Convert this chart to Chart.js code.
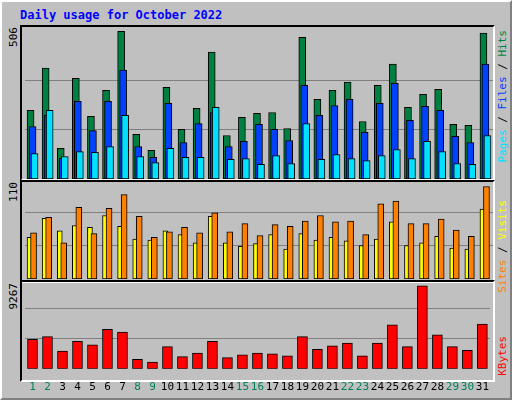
<!DOCTYPE html>
<html><head><meta charset="utf-8">
<script src="https://cdn.jsdelivr.net/npm/chart.js@4"></script>
<style>
body{margin:0;background:#fff;}
#wrap{position:absolute;left:0;top:0;width:508px;height:396px;background:#c0c0c0;border-left:2px solid #fff;border-top:2px solid #fff;border-right:2px solid #808080;border-bottom:2px solid #808080;overflow:hidden;}
.frame{position:absolute;border-top:2px solid #000;border-left:2px solid #000;border-right:2px solid #fff;border-bottom:2px solid #fff;box-sizing:border-box;}
canvas{position:absolute;}
.t{position:absolute;font-family:"DejaVu Sans Mono",monospace;font-size:11px;white-space:nowrap;}
.v{writing-mode:vertical-rl;transform:rotate(180deg);}
</style></head><body>
<div id="wrap">
<div class="t" style="left:18px;top:6px;color:#0000ff;font-weight:bold;font-size:12px;">Daily usage for October 2022</div>
<div class="frame" style="left:18px;top:23px;width:475px;height:156px;"></div>
<div class="frame" style="left:18px;top:178px;width:475px;height:103px;"></div>
<div class="frame" style="left:18px;top:278px;width:475px;height:102px;"></div>
<div class="t v" style="left:5px;top:25px;color:#000;">506</div>
<div class="t v" style="left:5px;top:180px;color:#000;">110</div>
<div class="t v" style="left:5px;top:281px;color:#000;">9267</div>
<div class="t v" style="left:494px;top:28px;"><span style="color:#00e0ff">Pages</span> / <span style="color:#0040ff">Files</span> / <span style="color:#008040">Hits</span></div>
<div class="t v" style="left:494px;top:198px;"><span style="color:#ff8000">Sites</span> / <span style="color:#ffff00">Visits</span></div>
<div class="t v" style="left:494px;top:334px;color:#ff0000;">KBytes</div>
<canvas id="c1" style="left:20px;top:25px;width:471px;height:152px;"></canvas>
<canvas id="c2" style="left:20px;top:180px;width:471px;height:97px;"></canvas>
<canvas id="c3" style="left:20px;top:280px;width:471px;height:116px;"></canvas>
</div>
<script>
const days=['1','2','3','4','5','6','7','8','9','10','11','12','13','14','15','16','17','18','19','20','21','22','23','24','25','26','27','28','29','30','31'];
const weekend=[1,2,8,9,15,16,22,23,29,30];
const hits=[235,380,105,345,215,304,506,153,98,314,170,242,435,149,211,225,228,173,486,273,304,332,197,321,394,246,290,307,187,184,500];
const files=[180,218,71,266,166,266,373,111,74,259,125,190,228,111,129,187,170,132,321,218,252,273,160,259,328,201,249,235,146,125,394];
const pages=[87,235,77,94,91,111,218,77,56,105,74,74,246,67,70,50,80,53,190,67,84,70,63,80,101,70,129,94,53,50,149];
const visits=[46,67,53,59,57,70,58,44,43,53,49,40,69,40,36,39,49,33,50,43,46,42,37,44,63,37,40,47,34,33,77];
const sites=[51,68,40,79,50,78,93,69,46,52,57,51,73,52,61,48,60,58,64,70,63,64,49,83,86,61,61,66,54,47,102];
const kbytes=[3033,3313,1816,2845,2471,4062,3781,973,693,2284,1254,1629,2845,1161,1441,1629,1535,1348,3313,2003,2377,2658,1348,2658,4530,2284,8555,3501,2284,1909,4624];
const maxLabels=[506,110,9267];

Chart.defaults.animation=false;
Chart.defaults.font.family='"DejaVu Sans Mono", monospace';
const shiftPlugin={id:'shift',afterDatasetsUpdate(chart){
  chart.data.datasets.forEach((d,i)=>{const m=chart.getDatasetMeta(i);
    m.data.forEach(el=>{el.x+=d.xShift||0;});});}};
function yScale(max,label){
  return {display:true,min:0,max:max,ticks:{display:false},border:{display:false},
    grid:{color:'#808080',lineWidth:1,drawTicks:false},
    afterBuildTicks:s=>{s.ticks=[{value:label/3},{value:2*label/3}];},
    afterFit:s=>{s.width=0;}};
}
function ds(data,color,w,shift,order){return {data:data,backgroundColor:color,borderColor:'#000',borderWidth:1,borderSkipped:false,barThickness:w,xShift:shift,order:order,grouped:false};}
function opts(max,label,showX){
  return {responsive:false,maintainAspectRatio:false,layout:{padding:{left:3,right:0,top:0,bottom:0}},
    plugins:{legend:{display:false},tooltip:{enabled:false}},
    scales:{x:showX?{display:true,grid:{display:false},border:{display:false},
      ticks:{font:{size:11},padding:4,maxRotation:0,autoSkip:false,
        color:c=>weekend.includes(Number(days[c.index]))?'#00805c':'#000'}}:{display:false},
      y:yScale(max,label)}};
}
function mk(id,w,h){const c=document.getElementById(id);c.width=w;c.height=h;return c;}
new Chart(mk('c1',471,152),{type:'bar',plugins:[shiftPlugin],data:{labels:days,datasets:[ds(hits,'#008040',7,-2,2),ds(files,'#0040ff',7,0,1),ds(pages,'#00e0ff',7,2,0)]},options:opts(521,maxLabels[0],false)});
new Chart(mk('c2',471,97),{type:'bar',plugins:[shiftPlugin],data:{labels:days,datasets:[ds(visits,'#ffff00',5,-3,1),ds(sites,'#ff8000',6,1,0)]},options:opts(107,maxLabels[1],false)});
new Chart(mk('c3',471,116),{type:'bar',plugins:[shiftPlugin],data:{labels:days,datasets:[ds(kbytes,'#ff0000',10,0,0)]},options:opts(8958,maxLabels[2],true)});
</script>
</body></html>
